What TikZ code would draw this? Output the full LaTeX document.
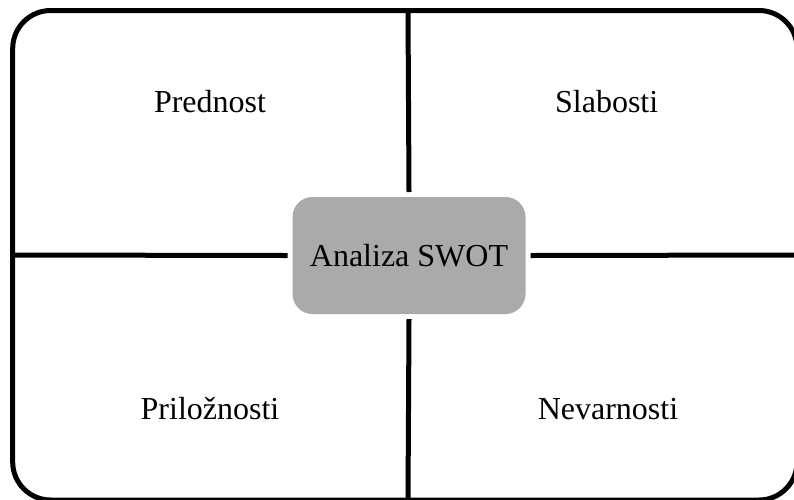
\documentclass[tikz,border=0pt]{standalone}
\usepackage{fontspec}
\setmainfont{Liberation Serif}
\begin{document}
\begin{tikzpicture}[x=1pt,y=-1pt]

	\useasboundingbox (0,0) rectangle (794,499);

	\draw[line width=5pt,rounded corners=38pt] (12.7,10.5) rectangle (797,500);

	\coordinate (top) at (408,10.5);
	\coordinate (bottom) at (408,500);
	\coordinate (left) at (12.7,255);
	\coordinate (right) at (797,255);

	\node[fill={rgb,255:red,170;green,170;blue,170},rounded corners=20pt,minimum width=233pt,minimum height=117pt,outer sep=5pt,font=\fontsize{32}{38}\selectfont] (swot) at (409,255.5) {Analiza SWOT};

	\draw[line width=5pt] (top) -- (swot.north);
	\draw[line width=5pt] (swot.south) -- (bottom);
	\draw[line width=5pt] (left) -- (swot.west);
	\draw[line width=5pt] (swot.east) -- (right);

	\node[anchor=base,font=\fontsize{32}{38}\selectfont] (s) at (210,112.7) {Prednost};
	\node[anchor=base,font=\fontsize{32}{38}\selectfont] (w) at (606.7,112.7) {Slabosti};
	\node[anchor=base,font=\fontsize{32}{38}\selectfont] (o) at (210,419) {Priložnosti};
	\node[anchor=base,font=\fontsize{32}{38}\selectfont] (t) at (608,419) {Nevarnosti};

\end{tikzpicture}
\end{document}
